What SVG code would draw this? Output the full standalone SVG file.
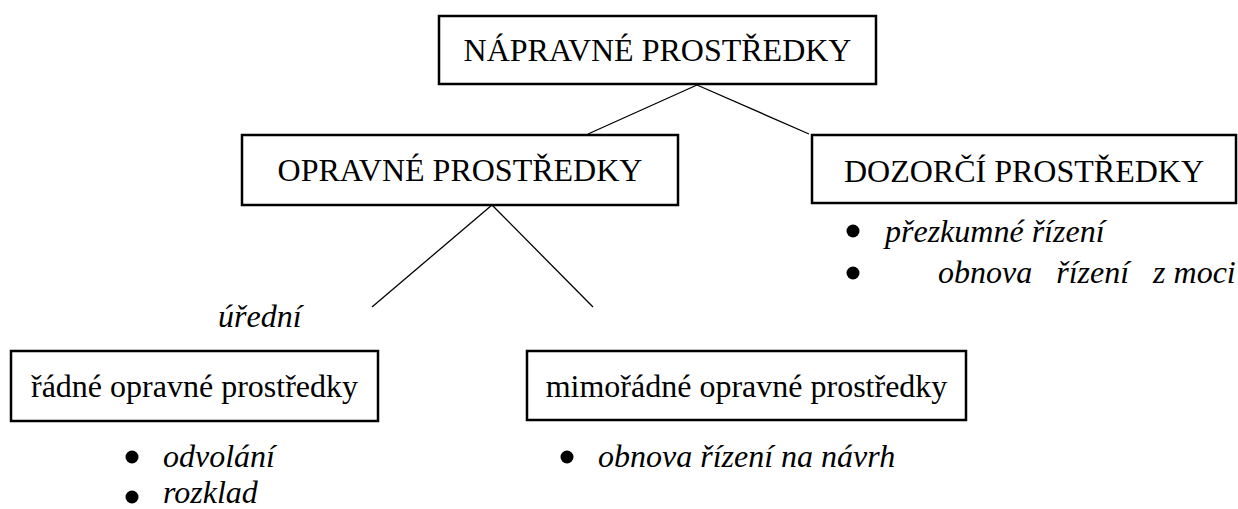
<svg xmlns="http://www.w3.org/2000/svg" width="1238" height="509" viewBox="0 0 1238 509">
<style>
.box{fill:#fff;stroke:#000;stroke-width:2.5}
.i{font-style:italic}
.c{text-anchor:middle}
.ln{stroke:#000;stroke-width:1.3;fill:none}
.b{fill:#000}
</style>
<rect width="1238" height="509" fill="#fff"/>
<g id="connectors">
<line class="ln" x1="697" y1="85" x2="588" y2="134"/>
<line class="ln" x1="697" y1="85" x2="809" y2="134"/>
<line class="ln" x1="492" y1="205" x2="372" y2="307"/>
<line class="ln" x1="492" y1="205" x2="593" y2="307"/>
</g>
<g font-family="Liberation Serif, Times New Roman, DejaVu Serif, serif" font-size="32" fill="#000">
<g id="napravne">
<rect class="box" x="439" y="16" width="437" height="68"/>
<text class="c" x="657.5" y="61">NÁPRAVNÉ PROSTŘEDKY</text>
</g>
<g id="opravne">
<rect class="box" x="242" y="135" width="436" height="70"/>
<text class="c" x="460" y="181">OPRAVNÉ PROSTŘEDKY</text>
</g>
<g id="dozorci">
<rect class="box" x="812" y="135" width="424" height="68"/>
<text class="c" x="1024" y="182">DOZORČÍ PROSTŘEDKY</text>
<circle class="b" cx="853" cy="231" r="6.5"/>
<text class="i" x="885" y="242">přezkumné řízení</text>
<circle class="b" cx="853" cy="273" r="6.5"/>
<text class="i" x="938" y="283" xml:space="preserve">obnova   řízení   z moci</text>
</g>
<g id="uredni">
<text class="i" x="218" y="327">úřední</text>
</g>
<g id="radne">
<rect class="box" x="11" y="351" width="367" height="70"/>
<text class="c" x="194.5" y="397">řádné opravné prostředky</text>
<circle class="b" cx="132" cy="457" r="6.5"/>
<text class="i" x="163" y="467">odvolání</text>
<circle class="b" cx="132" cy="497" r="6.5"/>
<text class="i" x="163" y="503">rozklad</text>
</g>
<g id="mimoradne">
<rect class="box" x="527" y="351" width="439" height="69"/>
<text class="c" x="746.5" y="397">mimořádné opravné prostředky</text>
<circle class="b" cx="567" cy="457" r="6.5"/>
<text class="i" x="598" y="467">obnova řízení na návrh</text>
</g>
</g>
</svg>
